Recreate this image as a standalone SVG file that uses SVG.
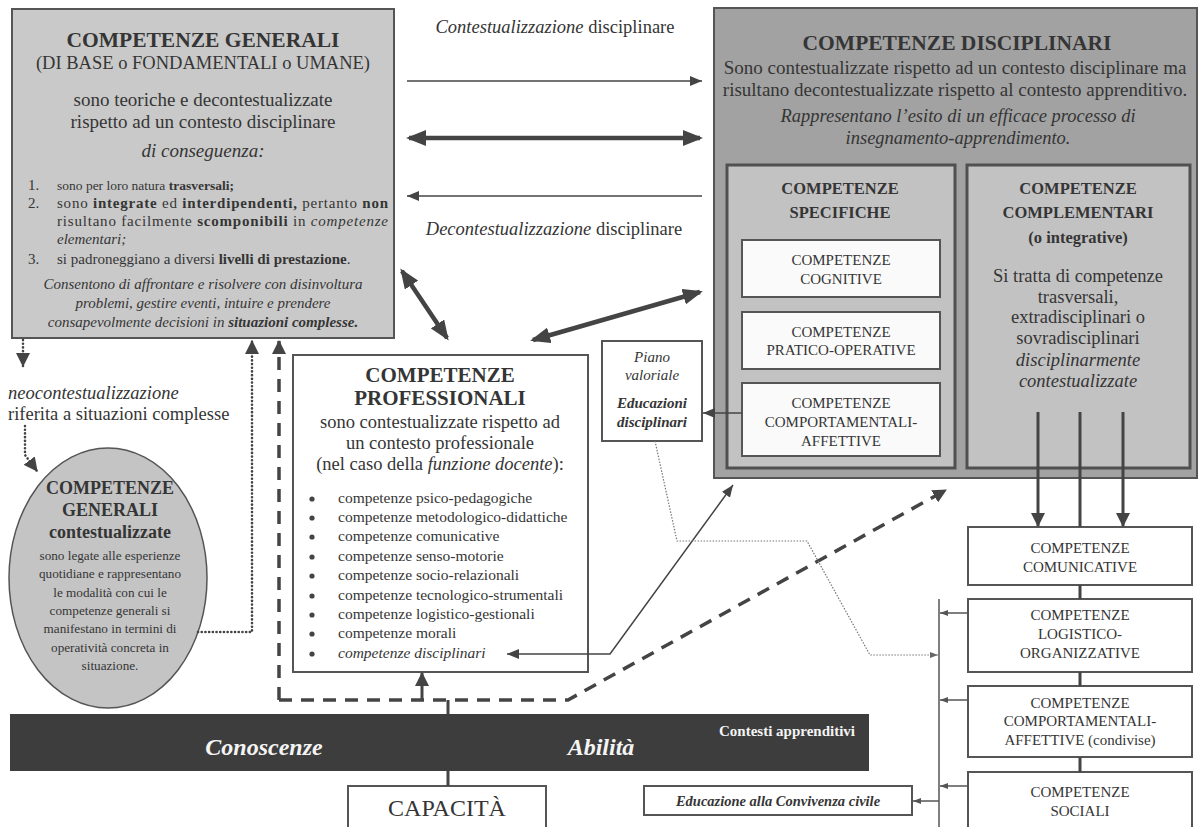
<svg xmlns="http://www.w3.org/2000/svg" width="1200" height="827" viewBox="0 0 1200 827">
<defs>
<style>
text{font-family:'Liberation Serif','Times New Roman',serif;fill:#353535}
.b{font-weight:bold}
.i{font-style:italic}
.c{text-anchor:middle}
.w{fill:#f4f4f4}
.box{stroke:#555;stroke-width:2}
.ln{fill:none;stroke:#444;stroke-width:1.5}
.gl{fill:none;stroke:#555;stroke-width:1.5}
.thick{fill:none;stroke:#444;stroke-width:4.5}
.stem{fill:none;stroke:#444;stroke-width:3}
.dot{fill:none;stroke:#444;stroke-width:2.6;stroke-dasharray:0.1 3.6;stroke-linecap:round}
.dash{fill:none;stroke:#444;stroke-width:3.5;stroke-dasharray:13 9}
.fine{fill:none;stroke:#777;stroke-width:1.2;stroke-dasharray:1.5 1.5}
</style>
<marker id="mbig" viewBox="0 0 20 16" refX="17" refY="8" markerWidth="20" markerHeight="16" markerUnits="userSpaceOnUse" orient="auto-start-reverse"><path d="M0,0 L20,8 L0,16 z" fill="#444"/></marker>
<marker id="mmed" viewBox="0 0 14 14" refX="13" refY="7" markerWidth="14" markerHeight="14" markerUnits="userSpaceOnUse" orient="auto-start-reverse"><path d="M0,0 L14,7 L0,14 z" fill="#444"/></marker>
<marker id="msm" viewBox="0 0 12 10" refX="12" refY="5" markerWidth="12" markerHeight="10" markerUnits="userSpaceOnUse" orient="auto-start-reverse"><path d="M0,0 L12,5 L0,10 z" fill="#444"/></marker>
<marker id="mxs" viewBox="0 0 8 6" refX="8" refY="3" markerWidth="8" markerHeight="6" markerUnits="userSpaceOnUse" orient="auto-start-reverse"><path d="M0,0 L8,3 L0,6 z" fill="#555"/></marker>
<marker id="mgray" viewBox="0 0 8 6" refX="8" refY="3" markerWidth="8" markerHeight="6" markerUnits="userSpaceOnUse" orient="auto"><path d="M0,0 L8,3 L0,6 z" fill="#666"/></marker>
</defs>
<rect width="1200" height="827" fill="#ffffff"/>

<g id="gen">
<rect x="12" y="9" width="382" height="329" fill="#c9c9c9" class="box"/>
<text class="c b" x="203" y="47" font-size="21.5">COMPETENZE GENERALI</text>
<text class="c" x="203" y="69" font-size="18.5">(DI BASE o FONDAMENTALI o UMANE)</text>
<text class="c" x="203" y="106" font-size="19">sono teoriche e decontestualizzate</text>
<text class="c" x="203" y="128" font-size="19">rispetto ad un contesto disciplinare</text>
<text class="c i" x="203" y="157" font-size="19">di conseguenza:</text>
<text x="28" y="190" font-size="15">1.</text>
<text x="57" y="190" font-size="13.5">sono per loro natura <tspan class="b">trasversali;</tspan></text>
<text x="28" y="208" font-size="15">2.</text>
<text x="57" y="208" font-size="15" textLength="331" lengthAdjust="spacing">sono <tspan class="b">integrate</tspan> ed <tspan class="b">interdipendenti,</tspan> pertanto <tspan class="b">non</tspan></text>
<text x="57" y="226" font-size="15" textLength="331" lengthAdjust="spacing">risultano facilmente <tspan class="b">scomponibili</tspan> in <tspan class="i">competenze</tspan></text>
<text x="57" y="244" font-size="15" class="i">elementari;</text>
<text x="28" y="264" font-size="15">3.</text>
<text x="57" y="264" font-size="15">si padroneggiano a diversi <tspan class="b">livelli di prestazione</tspan>.</text>
<text class="c i" x="203" y="289" font-size="15">Consentono di affrontare e risolvere con disinvoltura</text>
<text class="c i" x="203" y="308" font-size="15">problemi, gestire eventi, intuire e prendere</text>
<text class="c i" x="203" y="327" font-size="15">consapevolmente decisioni in <tspan class="b">situazioni complesse.</tspan></text>
</g>

<g id="disc">
<rect x="714" y="8" width="483" height="470" fill="#a2a2a2" class="box"/>
<text class="c b" x="957" y="50" font-size="21.5">COMPETENZE DISCIPLINARI</text>
<text class="c" x="955" y="74" font-size="19">Sono contestualizzate rispetto ad un contesto disciplinare ma</text>
<text class="c" x="955" y="96" font-size="19">risultano decontestualizzate rispetto al contesto apprenditivo.</text>
<text class="c i" x="958" y="122" font-size="18.5">Rappresentano l’esito di un efficace processo di</text>
<text class="c i" x="958" y="144" font-size="18.5">insegnamento-apprendimento.</text>
</g>

<g id="specifiche">
<rect x="727" y="165" width="228" height="303" fill="#c2c2c2" stroke="#505050" stroke-width="3"/>
<text class="c b" x="840" y="194" font-size="16.5">COMPETENZE</text>
<text class="c b" x="840" y="218" font-size="16.5">SPECIFICHE</text>
</g>
<g id="cognitive">
<rect x="742" y="240" width="198" height="57" fill="#fafafa" class="box"/>
<text class="c" x="841" y="265" font-size="15">COMPETENZE</text>
<text class="c" x="841" y="284" font-size="15">COGNITIVE</text>
</g>
<g id="pratico">
<rect x="742" y="312" width="198" height="57" fill="#fafafa" class="box"/>
<text class="c" x="841" y="337" font-size="15">COMPETENZE</text>
<text class="c" x="841" y="355" font-size="15">PRATICO-OPERATIVE</text>
</g>
<g id="comportamentali">
<rect x="742" y="383" width="198" height="73" fill="#fafafa" class="box"/>
<text class="c" x="841" y="408" font-size="15">COMPETENZE</text>
<text class="c" x="841" y="427" font-size="15">COMPORTAMENTALI-</text>
<text class="c" x="841" y="446" font-size="15">AFFETTIVE</text>
</g>

<g id="complementari">
<rect x="967" y="165" width="223" height="303" fill="#c2c2c2" stroke="#505050" stroke-width="3"/>
<text class="c b" x="1078" y="194" font-size="16.5">COMPETENZE</text>
<text class="c b" x="1078" y="218" font-size="16.5">COMPLEMENTARI</text>
<text class="c b" x="1078" y="243" font-size="16.5">(o integrative)</text>
<text class="c" x="1078" y="282" font-size="18.5">Si tratta di competenze</text>
<text class="c" x="1078" y="303" font-size="18.5">trasversali,</text>
<text class="c" x="1078" y="323" font-size="18.5">extradisciplinari o</text>
<text class="c" x="1078" y="344" font-size="18.5">sovradisciplinari</text>
<text class="c i" x="1078" y="366" font-size="18.5">disciplinarmente</text>
<text class="c i" x="1078" y="387" font-size="18.5">contestualizzate</text>
</g>

<g id="professionali">
<rect x="293" y="355" width="295" height="317" fill="#ffffff" class="box"/>
<text class="c b" x="440" y="382" font-size="21">COMPETENZE</text>
<text class="c b" x="440" y="405" font-size="21">PROFESSIONALI</text>
<text class="c" x="440" y="428" font-size="18.5">sono contestualizzate rispetto ad</text>
<text class="c" x="440" y="449" font-size="18.5">un contesto professionale</text>
<text class="c" x="440" y="470" font-size="18.5">(nel caso della <tspan class="i">funzione docente</tspan>):</text>
<g font-size="15.5">
<text x="338" y="503">competenze psico-pedagogiche</text>
<text x="338" y="522">competenze metodologico-didattiche</text>
<text x="338" y="541">competenze comunicative</text>
<text x="338" y="561">competenze senso-motorie</text>
<text x="338" y="580">competenze socio-relazionali</text>
<text x="338" y="600">competenze tecnologico-strumentali</text>
<text x="338" y="619">competenze logistico-gestionali</text>
<text x="338" y="638">competenze morali</text>
<text x="338" y="658" class="i">competenze disciplinari</text>
</g>
<g fill="#444">
<circle cx="312" cy="499" r="2.6"/><circle cx="312" cy="518" r="2.6"/><circle cx="312" cy="537" r="2.6"/>
<circle cx="312" cy="557" r="2.6"/><circle cx="312" cy="576" r="2.6"/><circle cx="312" cy="596" r="2.6"/>
<circle cx="312" cy="615" r="2.6"/><circle cx="312" cy="634" r="2.6"/><circle cx="312" cy="654" r="2.6"/>
</g>
</g>

<g id="piano">
<rect x="602" y="341" width="100" height="100" fill="#ffffff" class="box"/>
<text class="c i" x="652" y="362" font-size="15">Piano</text>
<text class="c i" x="652" y="380" font-size="15">valoriale</text>
<text class="c b i" x="652" y="408" font-size="15">Educazioni</text>
<text class="c b i" x="652" y="427" font-size="15">disciplinari</text>
</g>

<g id="gen-contest">
<ellipse cx="108" cy="578" rx="99" ry="130" fill="#c4c4c4" stroke="#555" stroke-width="1.5"/>
<text class="c b" x="110" y="494" font-size="18">COMPETENZE</text>
<text class="c b" x="110" y="516" font-size="18">GENERALI</text>
<text class="c b" x="110" y="538" font-size="18">contestualizzate</text>
<g font-size="13.2">
<text class="c" x="110" y="560">sono legate alle esperienze</text>
<text class="c" x="110" y="578">quotidiane e rappresentano</text>
<text class="c" x="110" y="597">le modalità con cui le</text>
<text class="c" x="110" y="615">competenze generali si</text>
<text class="c" x="110" y="633">manifestano in termini di</text>
<text class="c" x="110" y="652">operatività concreta in</text>
<text class="c" x="110" y="670">situazione.</text>
</g>
</g>

<g id="neo-label">
<text x="8" y="399" font-size="18.5" class="i">neocontestualizzazione</text>
<text x="8" y="420" font-size="18.5">riferita a situazioni complesse</text>
</g>

<g id="bar">
<rect x="10" y="714" width="859" height="57" fill="#3d3d3d"/>
<text class="c b i w" x="264" y="755" font-size="24">Conoscenze</text>
<text class="c b i w" x="601" y="755" font-size="24">Abilità</text>
<text class="c b w" x="787" y="736" font-size="15">Contesti apprenditivi</text>
</g>

<g id="capacita">
<rect x="348" y="786" width="198" height="50" fill="#ffffff" class="box"/>
<text class="c" x="447" y="816" font-size="24">CAPACITÀ</text>
</g>

<g id="comunicative">
<rect x="968" y="527" width="224" height="58" fill="#ffffff" class="box"/>
<text class="c" x="1080" y="553" font-size="15">COMPETENZE</text>
<text class="c" x="1080" y="572" font-size="15">COMUNICATIVE</text>
</g>
<g id="logistico">
<rect x="968" y="599" width="224" height="73" fill="#ffffff" class="box"/>
<text class="c" x="1080" y="620" font-size="15">COMPETENZE</text>
<text class="c" x="1080" y="639" font-size="15">LOGISTICO-</text>
<text class="c" x="1080" y="658" font-size="15">ORGANIZZATIVE</text>
</g>
<g id="comportamentali-condivise">
<rect x="968" y="686" width="224" height="71" fill="#ffffff" class="box"/>
<text class="c" x="1080" y="708" font-size="15">COMPETENZE</text>
<text class="c" x="1080" y="726" font-size="15">COMPORTAMENTALI-</text>
<text class="c" x="1080" y="745" font-size="15">AFFETTIVE (condivise)</text>
</g>
<g id="sociali">
<rect x="968" y="772" width="224" height="70" fill="#ffffff" class="box"/>
<text class="c" x="1080" y="797" font-size="15">COMPETENZE</text>
<text class="c" x="1080" y="816" font-size="15">SOCIALI</text>
</g>
<g id="convivenza">
<rect x="644" y="786" width="268" height="29" fill="#ffffff" class="box"/>
<text class="c b i" x="778" y="806" font-size="14.5">Educazione alla Convivenza civile</text>
</g>

<g id="labels">
<text class="c" x="555" y="33" font-size="18.5"><tspan class="i">Contestualizzazione</tspan> disciplinare</text>
<text class="c" x="554" y="235" font-size="18.5"><tspan class="i">Decontestualizzazione</tspan> disciplinare</text>
</g>

<g id="connectors">
<path class="ln" d="M407,81 L702,81" marker-end="url(#msm)"/>
<path class="thick" d="M409,138 L700,138" marker-start="url(#mbig)" marker-end="url(#mbig)"/>
<path class="ln" d="M702,196 L407,196" marker-end="url(#msm)"/>
<path class="thick" d="M402,271 L447,338" marker-start="url(#mbig)" marker-end="url(#mbig)"/>
<path class="thick" d="M533,340 L700,292" marker-start="url(#mbig)" marker-end="url(#mbig)"/>
<path class="ln" d="M507,654 L610,654 L733,485" marker-start="url(#msm)" marker-end="url(#msm)"/>
<path class="ln" d="M742,413 L703,413" marker-end="url(#msm)"/>
<path class="dot" d="M23,340 L23,366" marker-end="url(#mmed)"/>
<path class="dot" d="M25,426 L25,455 L37,471" marker-end="url(#mmed)"/>
<path class="dot" d="M198,632 L252,632 L252,341" marker-end="url(#mmed)"/>
<path class="dash" d="M279,700 L279,341" marker-end="url(#mmed)"/>
<path class="dash" d="M279,700 L568,700 L946,490" marker-end="url(#mmed)"/>
<path class="stem" d="M422,700 L422,673" marker-end="url(#mmed)"/>
<path class="stem" d="M448,700 L448,714 M448,771 L448,786" stroke-width="2"/>
<path class="fine" d="M655,441 L677,541 L807,541 L870,655 L938,655" marker-end="url(#mgray)"/>
<path class="stem" d="M1038,412 L1038,526" marker-end="url(#mmed)"/>
<path class="stem" d="M1123,412 L1123,526" marker-end="url(#mmed)"/>
<path class="stem" d="M1080,412 L1080,527 M1080,585 L1080,599 M1080,672 L1080,686 M1080,757 L1080,772"/>
<path class="gl" d="M939,599 L939,827"/>
<path class="gl" d="M968,613 L940,613" marker-end="url(#mxs)"/>
<path class="gl" d="M968,700 L940,700" marker-end="url(#mxs)"/>
<path class="gl" d="M968,786 L940,786" marker-end="url(#mxs)"/>
<path class="gl" d="M939,801 L913,801" marker-end="url(#mxs)"/>
</g>
</svg>
